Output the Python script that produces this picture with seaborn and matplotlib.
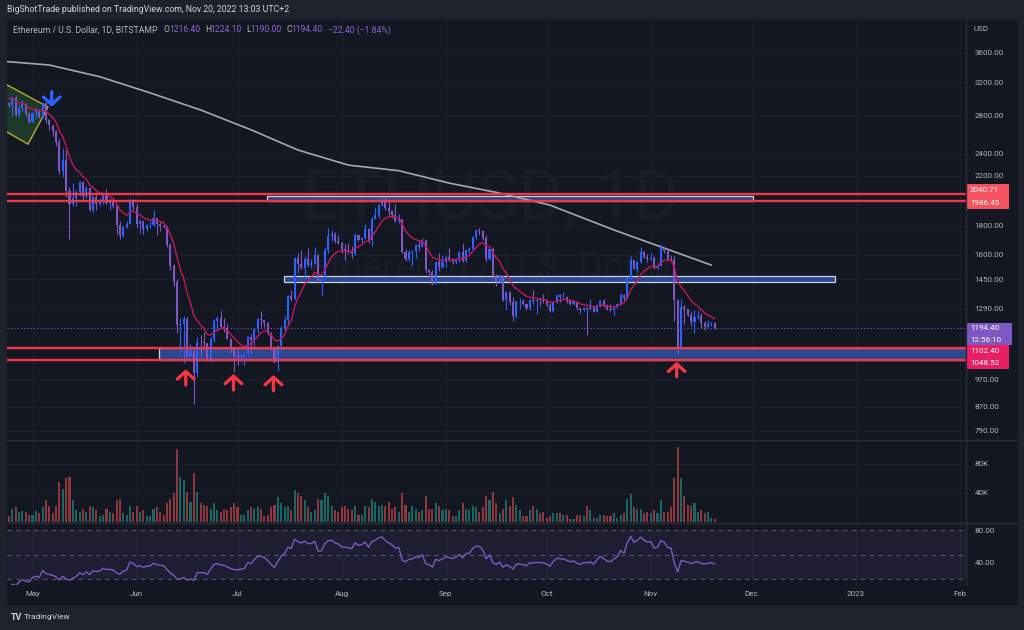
import numpy as np
import pandas as pd
import matplotlib
matplotlib.use('Agg')
import matplotlib.pyplot as plt
import seaborn as sns
from matplotlib.patches import Rectangle, Polygon
from matplotlib.ticker import FuncFormatter, NullLocator, FixedLocator

# ---------------- DATA ----------------
start_date = '2022-04-24'
first_open = 2940.0
# closes of the two weeks before the window (only used to warm up the EMA / RSI)
warmup_close = [3210, 2980, 3030, 3120, 3020, 3040, 3060, 2990, 3105, 3080, 3080, 2985, 2965, 2940]
close = [2922, 3008, 2808, 2889, 2936, 2816, 2730,
         2828, 2858, 2783, 2941, 2749, 2695, 2637, 2519, 2245, 2343, 2072, 1962, 2013, 2059, 2146, 2024, 2092, 1914, 2018, 1960, 1975, 2043, 1972, 1978, 1944, 1802, 1726, 1792, 1812, 1996, 1942,
         1815, 1833, 1776, 1804, 1806, 1859, 1814, 1794, 1789, 1665, 1530, 1436, 1207, 1212, 1236, 1068, 1086, 994, 1128, 1126, 1125, 1052, 1142, 1226, 1244, 1198, 1192, 1143, 1098, 1068,
         1060, 1067, 1074, 1150, 1135, 1187, 1238, 1233, 1217, 1169, 1097, 1039, 1112, 1191, 1233, 1354, 1340, 1581, 1542, 1521, 1577, 1535, 1546, 1598, 1440, 1451, 1635, 1724, 1739, 1695, 1680,
         1633, 1632, 1619, 1608, 1733, 1699, 1715, 1776, 1702, 1852, 1880, 1958, 1983, 1935, 1906, 1876, 1832, 1846, 1619, 1575, 1620, 1625, 1663, 1655, 1696, 1506, 1491, 1425, 1553, 1524, 1553,
         1585, 1576, 1556, 1576, 1617, 1562, 1633, 1636, 1718, 1765, 1760, 1714, 1573, 1637, 1472, 1434, 1470, 1334, 1376, 1324, 1252, 1328, 1328, 1316, 1294, 1335, 1330, 1337, 1336, 1328,
         1311, 1276, 1323, 1362, 1351, 1352, 1332, 1315, 1322, 1292, 1280, 1295, 1289, 1297, 1274, 1306, 1331, 1311, 1287, 1282, 1299, 1315, 1364, 1344, 1459, 1565, 1513, 1554, 1619, 1589, 1572,
         1580, 1519, 1531, 1645, 1628, 1571, 1569, 1335, 1099, 1298, 1286, 1257, 1220, 1245, 1252, 1215, 1200, 1212, 1216.4, 1194.4]
high = [2960, 3025, 3035, 2925, 2985, 2945, 2835,
        2840, 2890, 2875, 2960, 2955, 2760, 2700, 2645, 2550, 2460, 2440, 2100, 2140, 2080, 2150, 2150, 2110, 2105, 2035, 2060, 2010, 2050, 2085, 2010, 2010, 1960, 1830, 1800, 1830, 2010, 2000,
        1970, 1845, 1835, 1810, 1830, 1920, 1860, 1830, 1820, 1800, 1680, 1540, 1450, 1240, 1250, 1245, 1120, 1090, 1150, 1160, 1175, 1125, 1150, 1235, 1250, 1280, 1240, 1210, 1145, 1105,
        1095, 1075, 1080, 1155, 1165, 1190, 1240, 1275, 1235, 1220, 1175, 1100, 1115, 1205, 1250, 1360, 1390, 1585, 1615, 1630, 1590, 1645, 1575, 1650, 1605, 1455, 1650, 1785, 1765, 1755, 1730,
        1685, 1670, 1680, 1660, 1745, 1735, 1720, 1815, 1780, 1865, 1940, 1965, 2020, 2020, 1995, 1905, 1960, 1885, 1850, 1640, 1635, 1630, 1675, 1695, 1715, 1705, 1515, 1505, 1560, 1610, 1600,
        1590, 1645, 1580, 1580, 1625, 1680, 1640, 1655, 1725, 1770, 1785, 1765, 1730, 1645, 1650, 1480, 1480, 1470, 1385, 1385, 1350, 1330, 1345, 1340, 1320, 1340, 1390, 1345, 1345, 1370,
        1335, 1320, 1325, 1365, 1365, 1380, 1355, 1335, 1325, 1330, 1295, 1300, 1300, 1340, 1300, 1310, 1335, 1340, 1315, 1315, 1305, 1320, 1375, 1370, 1465, 1590, 1570, 1560, 1655, 1625, 1605,
        1610, 1590, 1550, 1675, 1655, 1635, 1600, 1590, 1340, 1340, 1310, 1285, 1275, 1285, 1280, 1265, 1225, 1230, 1224, 1224.1]
low = [2900, 2800, 2790, 2780, 2850, 2790, 2720,
       2720, 2775, 2770, 2775, 2720, 2640, 2580, 2480, 2210, 2190, 2020, 1705, 1945, 1950, 2025, 1985, 2010, 1905, 1895, 1920, 1945, 1960, 1965, 1920, 1935, 1740, 1705, 1720, 1780, 1810, 1915,
       1780, 1750, 1740, 1760, 1780, 1800, 1730, 1760, 1780, 1650, 1505, 1410, 1170, 1075, 1035, 1060, 1060, 880, 980, 1060, 1095, 1045, 1040, 1130, 1180, 1195, 1175, 1140, 1080, 1000,
       1030, 1040, 1030, 1060, 1075, 1110, 1170, 1200, 1200, 1160, 1090, 1035, 1005, 1090, 1180, 1210, 1330, 1335, 1485, 1510, 1460, 1525, 1520, 1540, 1430, 1360, 1450, 1615, 1695, 1680, 1675,
       1610, 1570, 1605, 1580, 1600, 1690, 1680, 1705, 1680, 1660, 1850, 1855, 1950, 1920, 1875, 1860, 1825, 1820, 1615, 1560, 1560, 1530, 1580, 1625, 1650, 1490, 1465, 1420, 1425, 1500, 1520,
       1525, 1560, 1540, 1545, 1555, 1555, 1555, 1610, 1635, 1705, 1730, 1700, 1560, 1570, 1460, 1415, 1430, 1330, 1285, 1310, 1225, 1240, 1290, 1310, 1280, 1280, 1315, 1260, 1305, 1320,
       1305, 1270, 1270, 1320, 1325, 1345, 1320, 1310, 1310, 1285, 1265, 1275, 1160, 1285, 1270, 1275, 1300, 1300, 1280, 1275, 1255, 1295, 1310, 1330, 1340, 1455, 1510, 1495, 1550, 1580, 1555,
       1570, 1510, 1510, 1530, 1615, 1565, 1560, 1225, 1075, 1090, 1210, 1250, 1205, 1170, 1235, 1195, 1185, 1195, 1205, 1190]
volume_k = [8, 18, 20, 14, 15, 14, 10,
            9, 15, 13, 20, 30, 22, 12, 22, 55, 45, 60, 62, 30, 16, 14, 18, 14, 22, 20, 16, 8, 9, 18, 14, 12, 30, 32, 12, 10, 22, 14,
            22, 14, 16, 8, 8, 18, 20, 14, 10, 26, 32, 40, 100, 62, 58, 42, 28, 68, 42, 26, 24, 22, 18, 26, 16, 14, 18, 16, 20, 26,
            20, 10, 10, 16, 20, 18, 20, 18, 8, 10, 20, 24, 34, 26, 20, 22, 16, 44, 40, 36, 30, 20, 14, 16, 32, 30, 40, 36, 22, 16, 14,
            20, 22, 18, 16, 22, 10, 10, 22, 20, 32, 28, 22, 24, 22, 28, 18, 20, 14, 40, 24, 14, 22, 18, 14, 16, 36, 18, 18, 26, 22, 16,
            18, 16, 8, 8, 16, 26, 18, 16, 22, 20, 14, 20, 36, 30, 42, 26, 12, 18, 30, 22, 34, 24, 16, 8, 8, 16, 22, 18, 12, 14,
            6, 8, 12, 12, 12, 10, 10, 4, 4, 10, 10, 8, 22, 16, 6, 6, 10, 10, 8, 8, 12, 6, 10, 12, 32, 38, 20, 18, 18, 12, 14,
            12, 16, 12, 30, 14, 14, 20, 60, 103, 60, 36, 24, 22, 26, 14, 16, 12, 14, 6, 4]
# 200-day SMA (day index, price)
sma200_day = [-1, 12, 27, 42, 57, 72, 86, 101, 116, 131, 146, 161, 180, 209]
sma200_val = [3480, 3430, 3273, 3067, 2864, 2645, 2438, 2295, 2244, 2135, 2051, 1954, 1769, 1536]

price_ticks = [790, 870, 970, 1290, 1450, 1600, 1800, 2200, 2400, 2800, 3200, 3600]
month_labels = ['May', 'Jun', 'Jul', 'Aug', 'Sep', 'Oct', 'Nov', 'Dec', '2023', 'Feb']
month_dates = ['2022-05-01', '2022-06-01', '2022-07-01', '2022-08-01', '2022-09-01',
               '2022-10-01', '2022-11-01', '2022-12-01', '2023-01-01', '2023-02-01']
red_levels = [2040.71, 1986.45, 1102.40, 1048.52]
last_price = 1194.40
# zones: (day_from, day_to, low, high)
zones = [(76.8, 221.4, 1987, 2027), (81.8, 245.8, 1437, 1473), (44.6, 300, 1048.52, 1102.4)]
wedge = [(-2.7, 3217), (11.6, 2897), (5.65, 2496), (-2.7, 2665)]
red_arrows = [(52.6, 949, 1011), (66.8, 930, 992), (78.7, 927, 988), (198.7, 981, 1042)]
blue_arrow = (12.7, 3082, 2901)

# ---------------- STYLE ----------------
sns.set_theme(style='dark')
plt.rcParams['font.family'] = ['Roboto', 'DejaVu Sans']
BG = '#131722'
FRAME = '#1e222d'
TXT = '#b2b5be'
UP = '#2962ff'
DN = '#7e57c2'
W, H = 1024, 630

fig = plt.figure(figsize=(W / 100, H / 100), dpi=100, facecolor=FRAME)

def box(x0, y0, x1, y1):
    return [x0 / W, 1 - y1 / H, (x1 - x0) / W, (y1 - y0) / H]

fig.add_artist(Rectangle((7 / W, 1 - 604 / H), (1017 - 7) / W, (604 - 20) / H,
                         transform=fig.transFigure, color=BG, zorder=-5))

main = fig.add_axes(box(7, 20, 966, 440))
vol = fig.add_axes(box(7, 440, 966, 523), sharex=main)
rsi = fig.add_axes(box(7, 523, 966, 585), sharex=main)

t0 = pd.Timestamp(start_date)
month_pos = [(pd.Timestamp(d) - t0).days for d in month_dates]

c = np.array(close, float)
o = np.r_[first_open, c[:-1]]
hi = np.maximum(np.array(high, float), np.maximum(o, c))
lo = np.minimum(np.array(low, float), np.minimum(o, c))
idx = np.arange(len(c))
up = c >= o
cols = np.where(up, UP, DN)
nw = len(warmup_close)
full_close = pd.Series(np.r_[np.array(warmup_close, float), c])

for ax in (main, vol, rsi):
    ax.set_facecolor(BG)
    for s in ax.spines.values():
        s.set_visible(False)
    ax.set_xticks(month_pos)
    ax.grid(True, axis='x', color='#1c202c', lw=0.8)
    ax.tick_params(axis='both', length=0, colors=TXT, labelsize=5.8)
    ax.yaxis.tick_right()
main.set_xlim(-0.6, 284.8)

# ---- main pane ----
main.set_yscale('log')
main.set_ylim(760.9, 4110)
main.yaxis.set_major_locator(FixedLocator(price_ticks))
main.yaxis.set_minor_locator(NullLocator())
main.yaxis.set_major_formatter(FuncFormatter(lambda v, p: f'{v:.2f}'))
main.tick_params(axis='y', pad=6)
main.grid(True, axis='y', color='#1c202c', lw=0.8)
plt.setp(main.get_xticklabels(), visible=False)

main.text(0.504, 0.571, 'ETHUSD, 1D', transform=main.transAxes, ha='center', va='center',
          fontsize=50, color='white', alpha=0.028, zorder=0)
main.text(0.505, 0.405, 'Ethereum / U.S. Dollar', transform=main.transAxes, ha='center', va='center',
          fontsize=27, color='white', alpha=0.028, zorder=0)

main.add_patch(Polygon(wedge, closed=True, facecolor='#1d3b2b', edgecolor='#c2b22f', lw=1.0,
                       alpha=0.95, zorder=1))
for x0, x1, zl, zh in zones:
    main.add_patch(Rectangle((x0, zl), x1 - x0, zh - zl, facecolor='#2a4790',
                             edgecolor='#d0d3e0', lw=0.9, zorder=1))

ema = full_close.ewm(span=9, adjust=False).mean().values[nw:]
sns.lineplot(x=sma200_day, y=sma200_val, ax=main, color='#a5a8b2', lw=1.2, zorder=2)
main.vlines(idx, lo, hi, colors=cols, lw=0.8, zorder=3)
body = np.maximum(np.abs(c - o), c * 0.002)
main.bar(idx, body, bottom=np.minimum(o, c), width=0.62, color=cols, lw=0, zorder=4)
sns.lineplot(x=idx, y=ema, ax=main, color='#c2185b', lw=1.0, zorder=5)

for lvl in red_levels:
    main.axhline(lvl, color='#f23645', lw=1.7, zorder=6)
main.axhline(last_price, color='#7e57c2', lw=0.8, ls=(0, (1, 2)), zorder=2)

for x, tail, tip in red_arrows:
    main.annotate('', xy=(x, tip), xytext=(x, tail), zorder=7,
                  arrowprops=dict(arrowstyle='->,head_length=0.45,head_width=0.5',
                                  color='#f23645', lw=2.4, shrinkA=0, shrinkB=0))
bx, btail, btip = blue_arrow
main.annotate('', xy=(bx, btip), xytext=(bx, btail), zorder=7,
              arrowprops=dict(arrowstyle='->,head_length=0.45,head_width=0.5',
                              color='#2962ff', lw=2.4, shrinkA=0, shrinkB=0))

# ---- volume pane ----
vol_vals = np.array(volume_k, float) * 1000
vcols = np.where(up, '#26a69a', '#ef5350')
vol.bar(idx, vol_vals, width=0.62, color=vcols, alpha=0.55, lw=0)
vol.set_ylim(-1400, 113000)
vol.yaxis.set_major_locator(FixedLocator([40000, 80000]))
vol.yaxis.set_major_formatter(FuncFormatter(lambda v, p: f'{int(v/1000)}K'))
vol.tick_params(axis='y', pad=6)
vol.grid(True, axis='y', color='#1c202c', lw=0.8)
plt.setp(vol.get_xticklabels(), visible=False)

# ---- RSI pane ----
delta = full_close.diff()
gain = delta.clip(lower=0).ewm(alpha=1 / 14, adjust=False).mean()
loss = (-delta.clip(upper=0)).ewm(alpha=1 / 14, adjust=False).mean()
rsi_vals = (100 - 100 / (1 + gain / loss)).values[nw:]
rsi.axhspan(20, 80, color='#7e57c2', alpha=0.11, lw=0)
for lv in (80, 50, 20):
    rsi.axhline(lv, color='#787b86', lw=0.8, ls=(0, (4, 4)), alpha=0.6)
sns.lineplot(x=idx, y=rsi_vals, ax=rsi, color='#7e57c2', lw=1.0)
rsi.set_ylim(13.3, 88.5)
rsi.yaxis.set_major_locator(FixedLocator([40, 80]))
rsi.yaxis.set_major_formatter(FuncFormatter(lambda v, p: f'{v:.2f}'))
rsi.tick_params(axis='y', pad=6)
rsi.set_xticklabels(month_labels)
rsi.tick_params(axis='x', pad=4)
for ax in (main, vol, rsi):
    ax.set_xlabel(''); ax.set_ylabel('')

# ---------------- OVERLAY (pixel space) ----------------
ov = fig.add_axes([0, 0, 1, 1], zorder=10)
ov.set_xlim(0, W); ov.set_ylim(H, 0); ov.axis('off'); ov.patch.set_alpha(0)

for y in (440, 523):
    ov.plot([7, 1017], [y, y], color='#2a2e39', lw=1)
ov.plot([966, 966], [20, 585], color='#2a2e39', lw=1)

ov.text(7, 10, 'BigShotTrade published on TradingView.com, Nov 20, 2022 13:03 UTC+2',
        color='#d1d4dc', fontsize=6.3, va='center', ha='left')
ov.text(13, 30, 'Ethereum / U.S. Dollar, 1D, BITSTAMP', color=TXT, fontsize=6.2, va='center')
pieces = [(164, 'O', TXT), (169, '1216.40', '#8a63d2'), (205, 'H', TXT), (210.5, '1224.10', '#8a63d2'),
          (246, 'L', TXT), (250.5, '1190.00', '#8a63d2'), (286.5, 'C', TXT), (291, '1194.40', '#8a63d2'),
          (327.5, '\u221222.40 (\u22121.84%)', '#8a63d2')]
for x, s, col in pieces:
    ov.text(x, 30, s, color=col, fontsize=6.2, va='center')
ov.text(973, 29, 'USD', color=TXT, fontsize=5.8, va='center')

def label_box(y0, y1, x1, col, lines):
    ov.add_patch(Rectangle((966, y0), x1 - 966, y1 - y0, color=col, lw=0))
    n = len(lines)
    for k, s in enumerate(lines):
        ov.text(970, y0 + (y1 - y0) * (k + 0.5) / n, s, color='white', fontsize=5.8, va='center')

label_box(184, 197, 1009, '#f7525f', [f'{red_levels[0]:.2f}'])
label_box(197, 209, 1009, '#f7525f', [f'{red_levels[1]:.2f}'])
label_box(323, 345, 1012, '#7e57c2', [f'{last_price:.2f}', '12:56:10'])
label_box(345, 357, 1009, '#e91e63', [f'{red_levels[2]:.2f}'])
label_box(357, 369, 1009, '#e91e63', [f'{red_levels[3]:.2f}'])

ov.text(11, 617, 'TV', color='#d1d4dc', fontsize=6.5, fontweight='bold', va='center')
ov.text(24, 617, 'TradingView', color='#d1d4dc', fontsize=6, va='center')

fig.savefig('out.png', dpi=100, facecolor=FRAME)
